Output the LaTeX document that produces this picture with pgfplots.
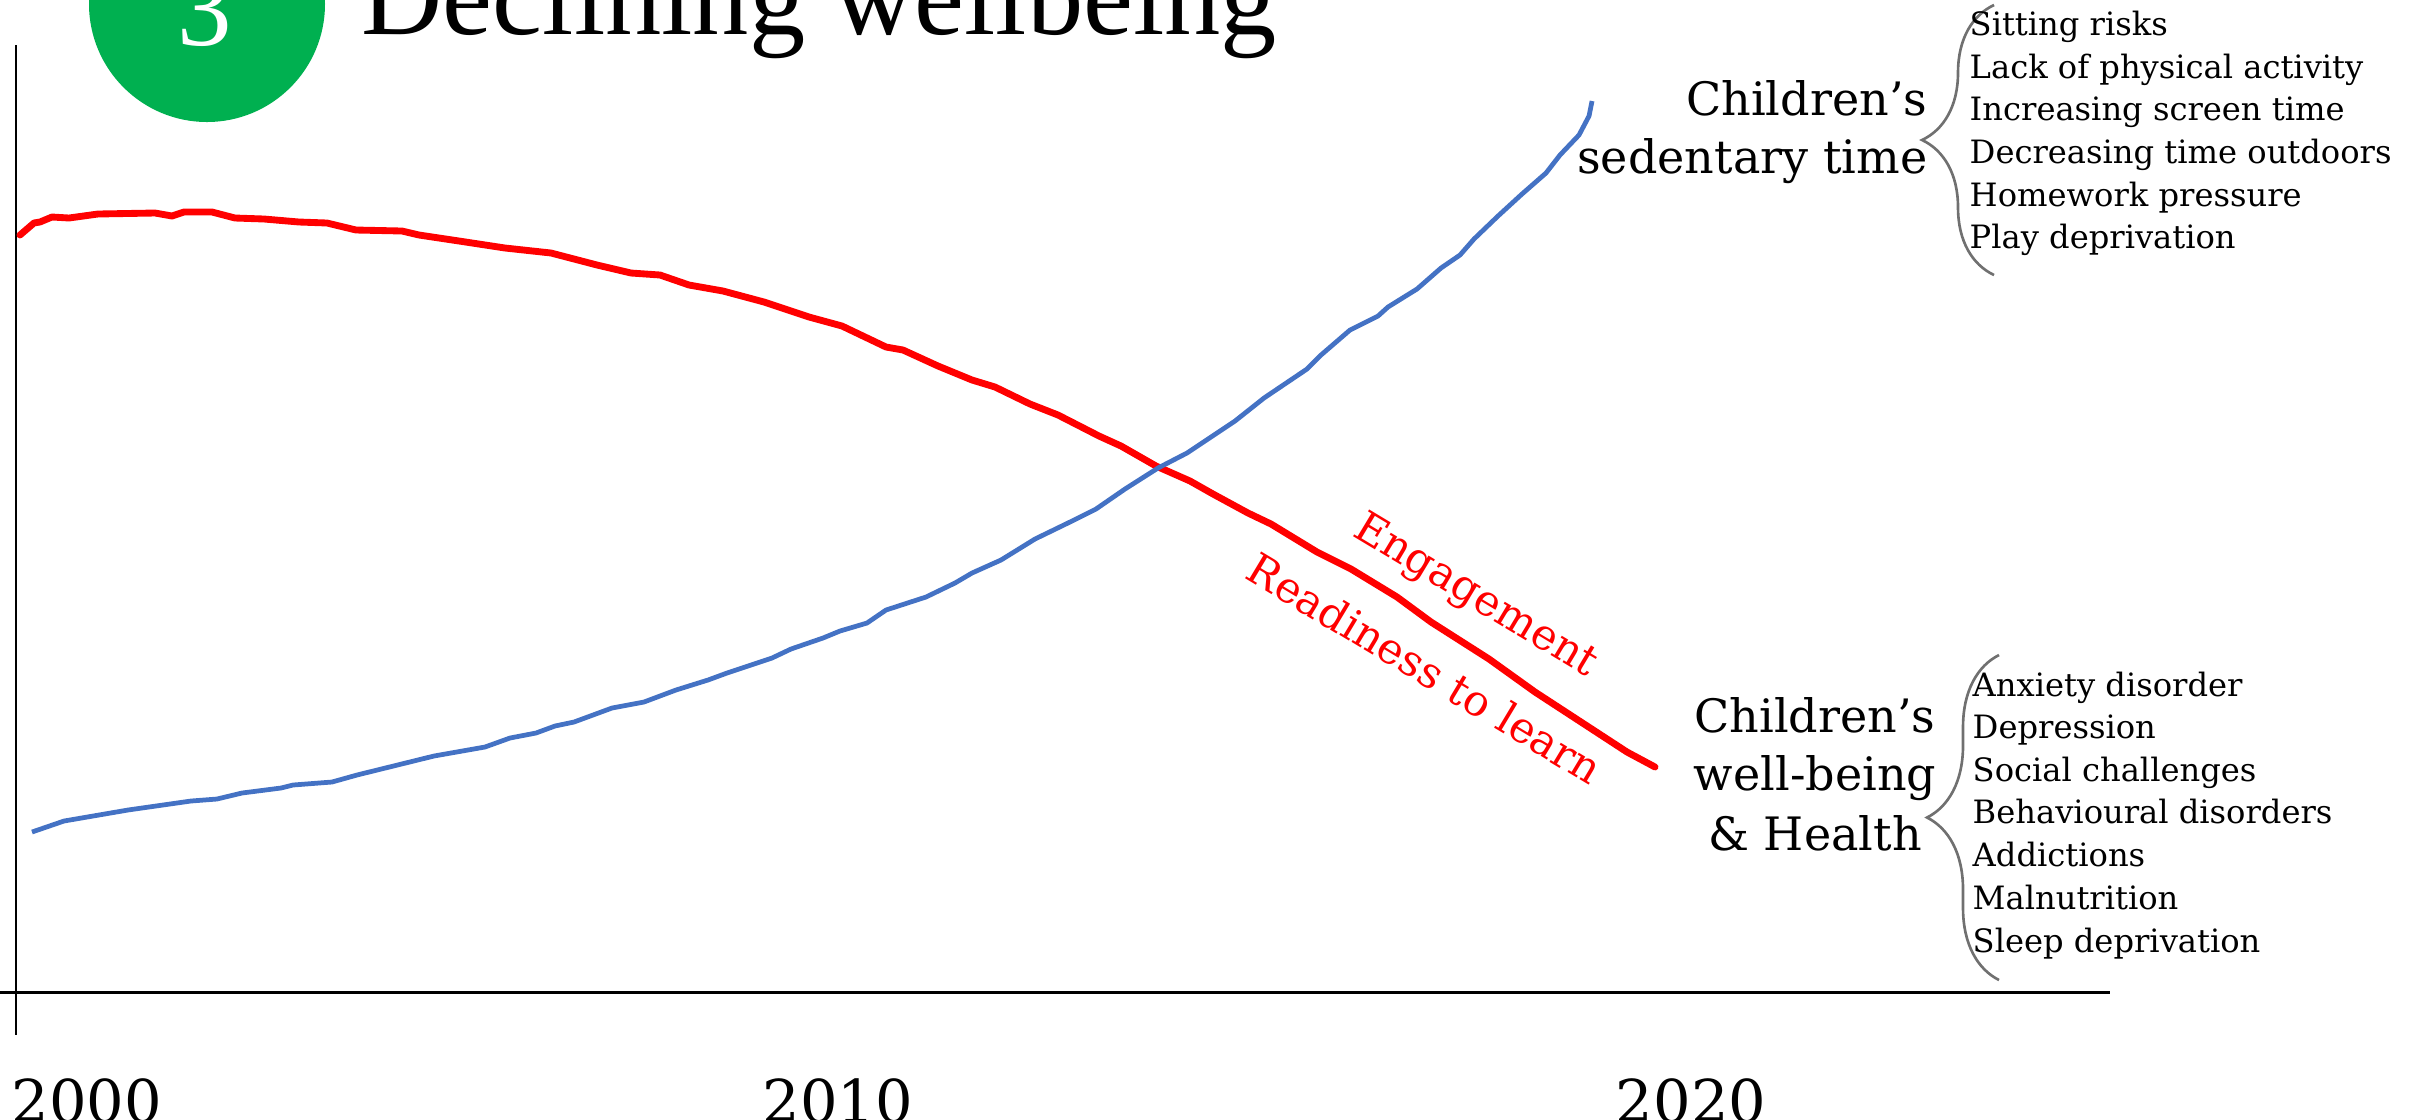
\documentclass[border=0pt]{standalone}
\usepackage{pgfplots}
\pgfplotsset{compat=1.18}
\usepackage{fontspec}
\setmainfont{DejaVu Serif}
\newfontfamily\titlefont{Liberation Serif}
\usetikzlibrary{decorations.pathreplacing}
\definecolor{myred}{HTML}{FF0000}
\definecolor{myblue}{HTML}{4472C4}
\definecolor{mygreen}{HTML}{00B050}
\definecolor{bracegray}{HTML}{707070}
\tikzset{lst/.style={inner sep=0, anchor=base west, font=\fontsize{9.15}{10}\selectfont},
  big/.style={inner sep=0, font=\fontsize{13.1}{14}\selectfont}}
\begin{document}
\begin{tikzpicture}
\useasboundingbox (0,0) rectangle (24.2cm,11.19cm);
\begin{axis}[scale only axis, width=24.2cm, height=11.19cm,
  xmin=0, xmax=2420, ymin=0, ymax=1119, y dir=reverse,
  enlargelimits=false, hide axis, clip=false]
% axes
\draw[black, line width=0.6pt] (axis cs:16,45) -- (axis cs:16,1035);
\draw[black, line width=0.85pt] (axis cs:0,992) -- (axis cs:2110,992);
% Engagement / readiness to learn (red)
\addplot[myred, line width=1.95pt, line join=round, line cap=round] coordinates {
(20,235) (34,223) (40,222) (52,217) (69,218) (98,214) (155,213) (172,216) (184,212)
(212,212) (235,218) (264,219) (299,222) (327,223) (356,230) (402,231) (419,235)
(459,241) (505,248) (551,253) (597,265) (631,273) (660,275) (689,285) (723,291)
(764,302) (809,317) (842,326) (886,347) (903,350) (938,366) (972,380) (995,387)
(1030,404) (1058,415) (1099,436) (1121,446) (1156,466) (1190,481) (1213,494)
(1248,513) (1271,524) (1317,552) (1351,569) (1397,597) (1431,622) (1489,659)
(1535,692) (1581,722) (1627,752) (1655,767)
};
% Sedentary time (blue)
\addplot[myblue, line width=1.35pt, line join=round] coordinates {
(32,832) (64,821) (128,810) (191,801) (217,799) (242,793) (281,788) (293,785)
(332,782) (357,775) (434,756) (485,747) (510,738) (536,733) (555,726) (574,722)
(612,708) (644,702) (676,690) (708,680) (727,673) (772,658) (791,649) (823,638)
(840,631) (867,623) (886,610) (926,597) (955,583) (972,573) (1001,560) (1035,539)
(1070,522) (1096,509) (1125,489) (1158,468) (1187,453) (1235,421) (1264,398)
(1307,369) (1321,355) (1350,330) (1378,316) (1388,307) (1417,289) (1441,268)
(1460,255) (1474,239) (1498,216) (1522,194) (1546,173) (1560,155) (1579,135)
(1589,116) (1592,101)
};
% title
\fill[mygreen, overlay] (axis cs:207,4) circle[radius=1.18cm];
\node[overlay, white, inner sep=0, anchor=base, font=\titlefont\fontsize{31}{31}\selectfont] at (axis cs:205,45) {3};
\node[overlay, inner sep=0, anchor=base west, font=\titlefont\fontsize{32}{32}\selectfont] at (axis cs:361,34) {Declining wellbeing};
% year labels
\node[overlay, inner sep=0, anchor=base, font=\fontsize{16.8}{17}\selectfont] at (axis cs:87,1122) {2000};
\node[overlay, inner sep=0, anchor=base, font=\fontsize{16.8}{17}\selectfont] at (axis cs:838,1122) {2010};
\node[overlay, inner sep=0, anchor=base, font=\fontsize{16.8}{17}\selectfont] at (axis cs:1691,1122) {2020};
% red labels
\node[myred, inner sep=0, rotate=-31, font=\fontsize{12.2}{13}\selectfont] at (axis cs:1475,597) {Engagement};
\node[myred, inner sep=0, rotate=-31, font=\fontsize{12.2}{13}\selectfont] at (axis cs:1425,668) {Readiness to learn};
% upper group
\node[big, anchor=base east] at (axis cs:1928,115) {Children’s};
\node[big, anchor=base east] at (axis cs:1928,173) {sedentary time};
\draw[bracegray, line width=0.75pt, decorate, decoration={brace, amplitude=0.72cm}] (axis cs:1994,275) -- (axis cs:1994,5);
\node[lst] at (axis cs:1969,35) {Sitting risks};
\node[lst] at (axis cs:1969,78) {Lack of physical activity};
\node[lst] at (axis cs:1969,120) {Increasing screen time};
\node[lst] at (axis cs:1969,163) {Decreasing time outdoors};
\node[lst] at (axis cs:1969,206) {Homework pressure};
\node[lst] at (axis cs:1969,248) {Play deprivation};
% lower group
\node[big, anchor=base] at (axis cs:1815,732) {Children’s};
\node[big, anchor=base] at (axis cs:1815,790) {well-being};
\node[big, anchor=base] at (axis cs:1815,850) {\& Health};
\draw[bracegray, line width=0.75pt, decorate, decoration={brace, amplitude=0.72cm}] (axis cs:1999,980) -- (axis cs:1999,655);
\node[lst] at (axis cs:1972,696) {Anxiety disorder};
\node[lst] at (axis cs:1972,738) {Depression};
\node[lst] at (axis cs:1972,781) {Social challenges};
\node[lst] at (axis cs:1972,823) {Behavioural disorders};
\node[lst] at (axis cs:1972,866) {Addictions};
\node[lst] at (axis cs:1972,909) {Malnutrition};
\node[lst] at (axis cs:1972,952) {Sleep deprivation};
\end{axis}
\end{tikzpicture}
\end{document}
